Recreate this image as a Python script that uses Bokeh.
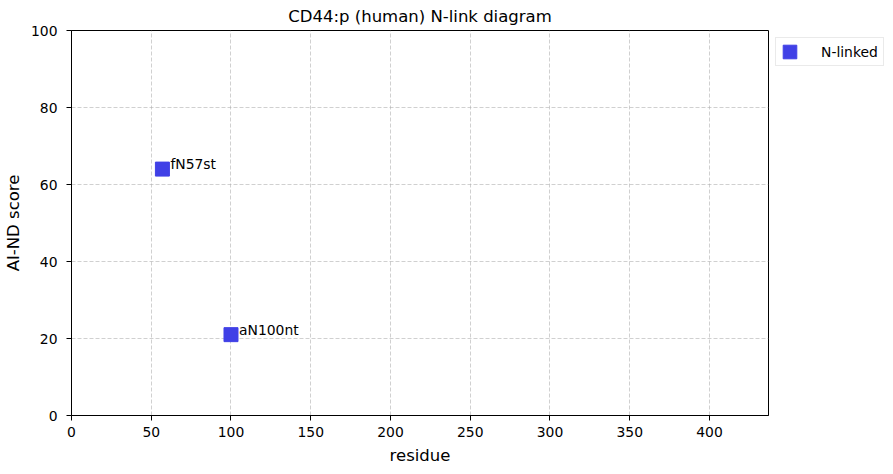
from bokeh.plotting import figure
from bokeh.models import ColumnDataSource, Legend, LegendItem, FixedTicker, Range1d
from bokeh.core.properties import value
from bokeh.embed import file_html
from bokeh.resources import INLINE

# data
residues = [57, 100]
scores = [64, 21]
site_labels = ["fN57st", "aN100nt"]
x_ticks = [0, 50, 100, 150, 200, 250, 300, 350, 400]
y_ticks = [0, 20, 40, 60, 80, 100]
seq_length = 437

FONT = "DejaVu Sans"
COLOR = "#4040e6"

src = ColumnDataSource(dict(x=residues, y=scores, label=site_labels))

p = figure(frame_width=697, frame_height=385, output_backend="svg",
           toolbar_location=None, x_range=Range1d(0, seq_length),
           y_range=Range1d(0, 100),
           min_border_left=64, min_border_top=22, min_border_bottom=51,
           min_border_right=10,
           title="CD44:p (human) N-link diagram")

p.title.text_font = FONT
p.title.text_font_size = "16.5px"
p.title.text_font_style = "normal"
p.title.text_color = "black"
p.title.align = "center"
p.title.standoff = 9

p.outline_line_color = "black"
p.outline_line_width = 1
p.outline_line_alpha = 1

for ax in (p.xaxis[0], p.yaxis[0]):
    ax.axis_line_color = "black"
    ax.major_tick_line_color = "black"
    ax.major_tick_out = 5
    ax.major_tick_in = 0
    ax.minor_tick_line_color = None
    ax.major_label_text_font = FONT
    ax.major_label_text_font_size = "13.9px"
    ax.major_label_text_color = "black"
    ax.axis_label_text_font = FONT
    ax.axis_label_text_font_size = "16.5px"
    ax.axis_label_text_font_style = "normal"
    ax.axis_label_text_color = "black"

p.xaxis.ticker = FixedTicker(ticks=x_ticks)
p.yaxis.ticker = FixedTicker(ticks=y_ticks)
p.xaxis.axis_label = "residue"
p.yaxis.axis_label = "AI-ND score"
p.xaxis.major_label_standoff = 6
p.yaxis.major_label_standoff = 9
p.xaxis.axis_label_standoff = 6
p.yaxis.axis_label_standoff = 5

for g in (p.xgrid[0], p.ygrid[0]):
    g.grid_line_color = "#b0b0b0"
    g.grid_line_alpha = 0.6
    g.grid_line_dash = "4 2"
    g.grid_line_width = 1
p.xgrid.ticker = FixedTicker(ticks=x_ticks)
p.ygrid.ticker = FixedTicker(ticks=y_ticks)

r = p.rect(x="x", y="y", width=14, height=14, width_units="screen",
           height_units="screen", source=src, fill_color=COLOR,
           line_color=COLOR)

p.text(x="x", y="y", text="label", source=src, x_offset=8, y_offset=-5,
       text_font=value(FONT), text_font_size="13.9px",
       text_baseline="alphabetic", text_align="left", text_color="black")

legend = Legend(items=[LegendItem(label="N-linked", renderers=[r])],
                location="top_left", margin=7, padding=5,
                glyph_width=17, glyph_height=17, label_standoff=23,
                label_text_font=FONT, label_text_font_size="13.9px",
                label_text_color="black",
                border_line_color="#d5d5d5", border_line_width=1,
                background_fill_alpha=1, spacing=0, label_height=17)
p.add_layout(legend, "right")

open("out.html", "w").write(file_html(p, INLINE))
